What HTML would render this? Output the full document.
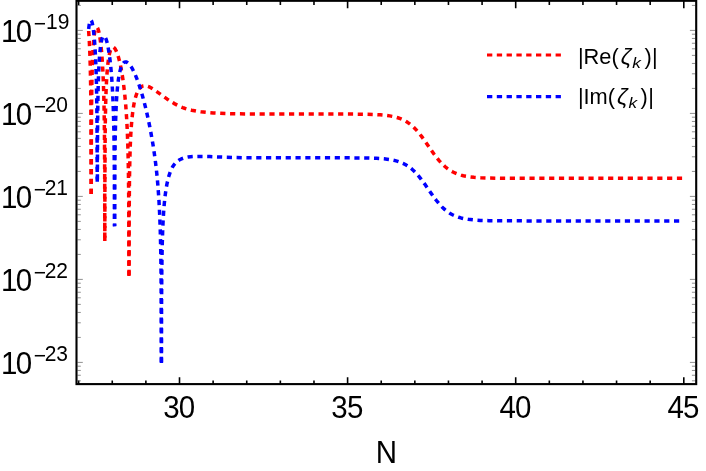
<!DOCTYPE html>
<html><head><meta charset="utf-8"><title>plot</title>
<style>
html,body{margin:0;padding:0;background:#fff;}
body{width:706px;height:471px;overflow:hidden;}
svg{display:block;will-change:transform;}
text{font-family:"Liberation Sans",sans-serif;fill:#000;}
.tl{font-size:29.5px;}
.sup{font-size:21px;}
.lg{font-size:21.8px;}
.zt{font-size:23px;font-style:italic;}
.sub{font-size:15px;font-style:italic;}
.xt{stroke:#000;stroke-width:1.6;fill:none;}
.ytM{stroke:#444;stroke-width:0.6;fill:none;}
.ytm{stroke:#444;stroke-width:0.6;fill:none;}
</style></head><body>
<svg width="706" height="471" viewBox="0 0 706 471">
<rect x="0" y="0" width="706" height="471" fill="#fff"/>
<path d="M78.64 384.10V380.40M78.64 0.80V5.10" class="xt"/>
<path d="M112.26 384.10V380.40M112.26 0.80V5.10" class="xt"/>
<path d="M145.88 384.10V380.40M145.88 0.80V5.10" class="xt"/>
<path d="M179.50 384.10V377.20M179.50 0.80V8.30" class="xt"/>
<path d="M213.12 384.10V380.40M213.12 0.80V5.10" class="xt"/>
<path d="M246.74 384.10V380.40M246.74 0.80V5.10" class="xt"/>
<path d="M280.36 384.10V380.40M280.36 0.80V5.10" class="xt"/>
<path d="M313.98 384.10V380.40M313.98 0.80V5.10" class="xt"/>
<path d="M347.60 384.10V377.20M347.60 0.80V8.30" class="xt"/>
<path d="M381.22 384.10V380.40M381.22 0.80V5.10" class="xt"/>
<path d="M414.84 384.10V380.40M414.84 0.80V5.10" class="xt"/>
<path d="M448.46 384.10V380.40M448.46 0.80V5.10" class="xt"/>
<path d="M482.08 384.10V380.40M482.08 0.80V5.10" class="xt"/>
<path d="M515.70 384.10V377.20M515.70 0.80V8.30" class="xt"/>
<path d="M549.32 384.10V380.40M549.32 0.80V5.10" class="xt"/>
<path d="M582.94 384.10V380.40M582.94 0.80V5.10" class="xt"/>
<path d="M616.56 384.10V380.40M616.56 0.80V5.10" class="xt"/>
<path d="M650.18 384.10V380.40M650.18 0.80V5.10" class="xt"/>
<path d="M683.80 384.10V377.20M683.80 0.80V8.30" class="xt"/>
<path d="M77.50 362.40h5.3M695.20 362.40h-5.3M77.50 279.40h5.3M695.20 279.40h-5.3M77.50 196.40h5.3M695.20 196.40h-5.3M77.50 113.40h5.3M695.20 113.40h-5.3M77.50 30.40h5.3M695.20 30.40h-5.3" class="ytM"/>
<path d="M77.50 380.81h3.3M695.20 380.81h-3.3M77.50 375.26h3.3M695.20 375.26h-3.3M77.50 370.44h3.3M695.20 370.44h-3.3M77.50 366.20h3.3M695.20 366.20h-3.3M77.50 337.41h3.3M695.20 337.41h-3.3M77.50 322.80h3.3M695.20 322.80h-3.3M77.50 312.43h3.3M695.20 312.43h-3.3M77.50 304.39h3.3M695.20 304.39h-3.3M77.50 297.81h3.3M695.20 297.81h-3.3M77.50 292.26h3.3M695.20 292.26h-3.3M77.50 287.44h3.3M695.20 287.44h-3.3M77.50 283.20h3.3M695.20 283.20h-3.3M77.50 254.41h3.3M695.20 254.41h-3.3M77.50 239.80h3.3M695.20 239.80h-3.3M77.50 229.43h3.3M695.20 229.43h-3.3M77.50 221.39h3.3M695.20 221.39h-3.3M77.50 214.81h3.3M695.20 214.81h-3.3M77.50 209.26h3.3M695.20 209.26h-3.3M77.50 204.44h3.3M695.20 204.44h-3.3M77.50 200.20h3.3M695.20 200.20h-3.3M77.50 171.41h3.3M695.20 171.41h-3.3M77.50 156.80h3.3M695.20 156.80h-3.3M77.50 146.43h3.3M695.20 146.43h-3.3M77.50 138.39h3.3M695.20 138.39h-3.3M77.50 131.81h3.3M695.20 131.81h-3.3M77.50 126.26h3.3M695.20 126.26h-3.3M77.50 121.44h3.3M695.20 121.44h-3.3M77.50 117.20h3.3M695.20 117.20h-3.3M77.50 88.41h3.3M695.20 88.41h-3.3M77.50 73.80h3.3M695.20 73.80h-3.3M77.50 63.43h3.3M695.20 63.43h-3.3M77.50 55.39h3.3M695.20 55.39h-3.3M77.50 48.81h3.3M695.20 48.81h-3.3M77.50 43.26h3.3M695.20 43.26h-3.3M77.50 38.44h3.3M695.20 38.44h-3.3M77.50 34.20h3.3M695.20 34.20h-3.3M77.50 5.41h3.3M695.20 5.41h-3.3" class="ytm"/>
<g fill="none" stroke-width="3.50" stroke-linejoin="round">
<path d="M88.65 31.01 89.32 41.46 89.88 54.02 90.32 68.62 90.65 85.61 90.88 104.71 91.04 127.55 91.20 196.30" stroke="#ff0000" stroke-dasharray="5.217 4.645" stroke-dashoffset="0.000"/>
<path d="M91.20 196.30 91.25 196.09 91.35 139.04 91.52 110.03 91.83 85.01 92.30 65.49 92.64 56.66 93.04 49.00 93.50 42.49 94.03 37.10 94.62 32.83 95.28 29.75 95.62 28.66 95.98 27.88 96.35 27.41 96.73 27.25" stroke="#ff0000" stroke-dasharray="5.242 4.667" stroke-dashoffset="7.575"/>
<path d="M96.73 27.25 96.97 27.31 97.22 27.51 97.72 28.27 98.23 29.54 98.74 31.30 99.24 33.54 99.73 36.24 100.66 42.89 101.50 50.93 102.23 60.27 102.86 70.82 103.38 82.59 103.75 93.97 104.05 106.62 104.29 120.79 104.47 136.90 104.68 174.93 104.80 241.67" stroke="#ff0000" stroke-dasharray="5.169 4.602" stroke-dashoffset="8.747"/>
<path d="M104.80 241.67 104.92 173.21 105.17 133.15 105.39 117.11 105.68 103.37 106.05 91.57 106.51 81.40 107.13 71.82 107.88 63.87 108.31 60.48 108.76 57.47 109.26 54.85 109.78 52.62 110.35 50.76 110.95 49.30 111.58 48.24 112.24 47.57 112.58 47.39 112.93 47.31 113.29 47.34 113.66 47.46 114.40 48.01 115.16 48.96 116.04 50.52 116.93 52.57 117.82 55.09 118.71 58.06 119.58 61.46 120.44 65.24 121.26 69.37 122.04 73.83 122.78 78.49 123.46 83.40 124.70 93.95 125.75 105.41 126.61 117.86 127.25 129.99 127.76 143.32 128.16 158.14 128.46 174.92 128.68 195.17 128.83 219.61 128.94 266.26 128.95 277.12 128.90 277.77" stroke="#ff0000" stroke-dasharray="5.180 4.612" stroke-dashoffset="9.130"/>
<path d="M128.90 277.77 129.02 276.63 129.15 218.76 129.45 181.19 129.68 167.19 129.97 154.96 130.34 144.20 130.78 134.70 131.37 125.56 132.08 117.55 132.90 110.57 133.87 104.52 134.40 101.84 134.97 99.37 135.59 97.11 136.23 95.07 136.92 93.23 137.65 91.60 138.43 90.17 139.24 88.93 140.16 87.84 141.13 86.97 142.15 86.31 143.22 85.88 144.36 85.66 145.56 85.67 146.77 85.88 148.10 86.33 149.21 86.83 150.49 87.51 153.53 89.36 156.73 91.56 163.78 96.69 167.32 99.17 171.38 101.84 174.84 103.88 179.15 106.10 180.99 106.94 182.72 107.63 184.55 108.27 186.95 109.00 191.63 110.20 196.16 111.10 200.96 111.82 206.77 112.46 213.23 112.96 220.32 113.34 228.39 113.61 238.07 113.80 250.00 113.93" stroke="#ff0000" stroke-dasharray="5.218 4.646" stroke-dashoffset="7.089"/>
<path d="M250.00 113.93 275.18 114.02 345.21 114.08 357.80 114.15 366.83 114.29 376.19 114.60 380.06 114.83 383.61 115.12 386.84 115.47 389.74 115.89 392.65 116.43 395.23 117.03 397.81 117.77 400.39 118.68 402.97 119.80 405.23 120.96 407.49 122.34 409.75 123.94 412.01 125.78 413.95 127.56 415.56 129.19 417.49 131.32 419.43 133.63 421.37 136.11 424.92 140.99 431.37 150.34 433.95 153.98 436.53 157.41 439.12 160.58 442.02 163.76 444.92 166.51 447.83 168.85 449.44 169.97 451.06 170.98 452.99 172.04 454.93 172.97 456.86 173.77 458.80 174.46 461.06 175.13 463.32 175.70 465.90 176.22 468.48 176.65 473.97 177.29 480.74 177.75 489.13 178.04 500.00 178.20" stroke="#ff0000" stroke-dasharray="5.192 4.623" stroke-dashoffset="0.230"/>
<path d="M500.00 178.20 531.09 178.29 683.40 178.30" stroke="#ff0000" stroke-dasharray="5.200 4.630" stroke-dashoffset="0.040"/>
</g>
<g fill="none" stroke-width="3.50" stroke-linejoin="round">
<path d="M88.65 28.90 89.14 25.13 89.67 22.40 89.94 21.44 90.23 20.76 90.52 20.34 90.82 20.21" stroke="#0000ff" stroke-dasharray="5.120 4.559" stroke-dashoffset="0.000"/>
<path d="M90.82 20.21 91.01 20.26 91.19 20.40 91.55 20.99 91.92 21.96 92.29 23.31 93.01 27.11 93.70 32.28 94.33 38.63 94.90 46.08 95.40 54.53 95.83 64.01 96.16 73.42 96.44 83.72 96.85 107.62 97.09 134.71 97.25 182.51 97.30 182.90" stroke="#0000ff" stroke-dasharray="5.175 4.608" stroke-dashoffset="9.256"/>
<path d="M97.30 182.90 97.37 182.05 97.55 131.40 97.84 103.59 98.07 91.06 98.36 80.18 98.71 70.62 99.13 62.33 99.68 54.57 100.32 48.15 101.05 43.07 101.45 41.04 101.87 39.35 102.31 38.01 102.78 37.01 103.26 36.38 103.51 36.20 103.76 36.11 104.02 36.11 104.27 36.20 104.80 36.66 105.33 37.48 105.87 38.66 106.42 40.20 106.97 42.10 108.04 46.88 109.06 52.86 110.01 59.90 110.86 67.78 111.60 76.48 112.25 86.00 112.80 96.35 113.22 106.52 113.57 117.62 113.85 129.78 114.08 143.28 114.36 172.40 114.53 225.70 114.60 226.20" stroke="#0000ff" stroke-dasharray="5.184 4.616" stroke-dashoffset="6.295"/>
<path d="M114.60 226.20 114.76 183.42 114.92 160.16 115.19 139.20 115.58 122.00 116.14 106.98 116.48 100.44 116.87 94.51 117.32 89.11 117.81 84.23 118.36 79.87 118.96 75.98 119.69 72.25 120.50 69.10 121.38 66.52 122.33 64.52 122.83 63.73 123.35 63.09 123.89 62.59 124.45 62.23 125.02 62.01 125.62 61.94 126.23 62.02 126.86 62.23 127.52 62.60 128.20 63.11 128.89 63.76 129.61 64.57 131.08 66.61 132.61 69.23 134.19 72.40 135.81 76.10 137.45 80.30 139.10 84.99 140.71 89.95 142.30 95.27 143.86 100.93 145.39 106.90 146.83 112.98 148.26 119.41 149.65 126.16 150.98 133.07 152.16 139.71 153.25 146.33 154.25 152.97 155.17 159.63 156.00 166.35 156.75 173.16 157.43 180.10 158.04 187.21 158.96 200.50 159.70 214.82 160.27 230.56 160.70 248.33 160.99 267.89 161.19 291.31 161.40 364.80" stroke="#0000ff" stroke-dasharray="5.188 4.619" stroke-dashoffset="2.594"/>
<path d="M161.40 364.80 161.56 304.29 161.81 270.18 162.02 255.66 162.29 243.04 162.63 231.89 163.05 222.02 163.59 212.58 164.24 204.18 165.01 196.67 165.91 189.99 166.92 184.13 168.07 179.03 168.74 176.59 169.44 174.30 170.18 172.18 170.96 170.24 172.32 167.41 173.02 166.22 173.75 165.14 174.63 164.01 175.54 162.99 176.48 162.07 177.48 161.23 178.52 160.48 179.64 159.80 180.83 159.18 182.09 158.64 183.53 158.11 184.98 157.68 186.44 157.33 188.03 157.04 190.56 156.72 193.38 156.55 199.03 156.46 203.87 156.47 209.68 156.59 222.91 157.12 236.14 157.51 242.59 157.65 250.00 157.70" stroke="#0000ff" stroke-dasharray="5.190 4.621" stroke-dashoffset="7.985"/>
<path d="M250.00 157.70 345.21 157.83 358.12 157.90 367.15 158.02 376.51 158.32 380.38 158.55 383.93 158.83 387.16 159.18 390.07 159.59 392.65 160.05 395.23 160.63 397.81 161.35 400.39 162.24 402.97 163.33 405.23 164.47 407.49 165.82 409.75 167.39 412.01 169.21 413.95 170.97 415.56 172.59 417.49 174.71 419.11 176.61 421.04 179.05 424.59 183.87 433.63 196.81 436.21 200.24 438.79 203.40 440.41 205.22 442.02 206.91 444.92 209.60 446.22 210.67 447.83 211.88 449.44 212.97 451.06 213.94 452.99 214.97 454.93 215.86 456.86 216.63 458.80 217.29 461.06 217.94 463.32 218.47 465.58 218.91 468.16 219.32 473.64 219.94 480.42 220.38 488.81 220.66 500.00 220.81" stroke="#0000ff" stroke-dasharray="5.192 4.623" stroke-dashoffset="3.594"/>
<path d="M500.00 220.81 530.76 220.89 683.40 220.90" stroke="#0000ff" stroke-dasharray="5.200 4.630" stroke-dashoffset="2.940"/>
</g>
<rect x="76.50" y="0.80" width="619.70" height="383.30" fill="none" stroke="#000" stroke-width="2.10"/>
<text transform="translate(0.90 41.60) scale(1 1.045)" class="tl">1<tspan dx="-1.6">0</tspan><tspan class="sup" dx="1.7" dy="-10.62">−</tspan><tspan class="sup" dx="0.0" dy="-1.24">19</tspan></text>
<text transform="translate(0.90 124.60) scale(1 1.045)" class="tl">1<tspan dx="-1.6">0</tspan><tspan class="sup" dx="1.7" dy="-10.62">−</tspan><tspan class="sup" dx="-1.4" dy="-1.24">20</tspan></text>
<text transform="translate(0.90 207.60) scale(1 1.045)" class="tl">1<tspan dx="-1.6">0</tspan><tspan class="sup" dx="1.7" dy="-10.62">−</tspan><tspan class="sup" dx="-1.4" dy="-1.24">21</tspan></text>
<text transform="translate(0.90 290.60) scale(1 1.045)" class="tl">1<tspan dx="-1.6">0</tspan><tspan class="sup" dx="1.7" dy="-10.62">−</tspan><tspan class="sup" dx="-1.4" dy="-1.24">22</tspan></text>
<text transform="translate(0.90 373.60) scale(1 1.045)" class="tl">1<tspan dx="-1.6">0</tspan><tspan class="sup" dx="1.7" dy="-10.62">−</tspan><tspan class="sup" dx="-1.4" dy="-1.24">23</tspan></text>
<text transform="translate(179.20 418.00) scale(1 1.045)" class="tl" text-anchor="middle">3<tspan dx="-0.8">0</tspan></text>
<text transform="translate(347.30 418.00) scale(1 1.045)" class="tl" text-anchor="middle">3<tspan dx="-0.8">5</tspan></text>
<text transform="translate(515.40 418.00) scale(1 1.045)" class="tl" text-anchor="middle">4<tspan dx="-0.8">0</tspan></text>
<text transform="translate(683.50 418.00) scale(1 1.045)" class="tl" text-anchor="middle">4<tspan dx="-0.8">5</tspan></text>
<text transform="translate(386.40 462.90) scale(1 1.045)" class="tl" text-anchor="middle">N</text>
<path d="M487 55.00H561.2" stroke="#ff0000" stroke-width="3.2" stroke-dasharray="5.3 4.5"/>
<text x="577.9" y="63.60" class="lg">|Re(</text>
<text x="620.80" y="63.60" class="zt">ζ</text>
<text transform="translate(632.20 67.80) scale(1.15 0.95)" class="sub">k</text>
<text x="644.40" y="63.60" class="lg">)</text>
<text x="652.05" y="63.60" class="lg">|</text>
<path d="M487 96.70H561.2" stroke="#0000ff" stroke-width="3.2" stroke-dasharray="5.3 4.5"/>
<text x="577.9" y="104.20" class="lg">|Im(</text>
<text x="617.00" y="104.20" class="zt">ζ</text>
<text transform="translate(628.40 108.40) scale(1.15 0.95)" class="sub">k</text>
<text x="640.60" y="104.20" class="lg">)</text>
<text x="648.25" y="104.20" class="lg">|</text>
</svg></body></html>
